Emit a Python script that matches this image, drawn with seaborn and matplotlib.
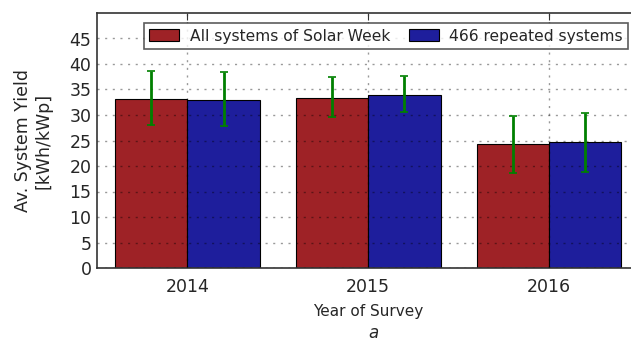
import matplotlib
matplotlib.use("Agg")
import matplotlib.pyplot as plt
import seaborn as sns
import pandas as pd
import numpy as np

# Survey years and series
years = ["2014", "2015", "2016"]
series = ["All systems of Solar Week", "466 repeated systems"]

# Average system yield [kWh/kWp] per series
yield_all = [33.2, 33.4, 24.4]
yield_repeated = [33.0, 33.9, 24.7]

# Error bar extents (lower / upper bounds)
low_all = [28.0, 29.6, 18.6]
high_all = [38.6, 37.4, 29.9]
low_repeated = [27.8, 30.5, 18.9]
high_repeated = [38.4, 37.6, 30.4]

colors = ["#9E2226", "#1E1E9C"]

df = pd.DataFrame({
    "Year": years * 2,
    "Series": [series[0]] * 3 + [series[1]] * 3,
    "Yield": yield_all + yield_repeated,
})

sns.set_style("white")
plt.rcParams["font.family"] = ["DejaVu Sans"]

fig = plt.figure(figsize=(6.31, 3.45), dpi=100)
ax = fig.add_axes([97 / 631, 77 / 345, 542.5 / 631, 255 / 345])

sns.barplot(data=df, x="Year", y="Yield", hue="Series", order=years,
            hue_order=series, palette=colors, errorbar=None, width=0.8,
            edgecolor="black", linewidth=0.8, saturation=1, ax=ax, zorder=1)

# Asymmetric error bars centred on each bar
means = [yield_all, yield_repeated]
lows = [low_all, low_repeated]
highs = [high_all, high_repeated]
for j in range(2):
    xs = np.arange(len(years)) + (j - 0.5) * 0.4
    m = np.array(means[j])
    yerr = [m - np.array(lows[j]), np.array(highs[j]) - m]
    ax.errorbar(xs, m, yerr=yerr, fmt="none", ecolor="green",
                elinewidth=2, capsize=3, capthick=1.2, zorder=3)

ax.set_xlim(-0.5, 2.5)
ax.set_ylim(0, 50)
ax.set_yticks(range(0, 50, 5))

ax.grid(True, color="black", linestyle=(0, (1.5, 4)), linewidth=1.0,
        alpha=0.4)
ax.set_axisbelow(False)
for sp in ax.spines.values():
    sp.set_visible(True)
    sp.set_color("#333333")
    sp.set_linewidth(1.2)

ax.tick_params(axis="both", direction="in", top=True, right=True,
               length=5, width=0.8, color="#333333")
ax.tick_params(axis="y", labelsize=12.5, pad=4)
ax.tick_params(axis="x", labelsize=12.5, pad=7)

ax.set_ylabel("Av. System Yield\n[kWh/kWp]", fontsize=12.5, labelpad=12)
ax.set_xlabel("Year of Survey", fontsize=11, labelpad=6)

leg = ax.legend(loc="upper right", ncol=2, fontsize=11.2, frameon=True,
                fancybox=False, edgecolor="#333333", handlelength=1.9,
                handleheight=0.8, handletextpad=0.7, columnspacing=1.2,
                borderpad=0.35, bbox_to_anchor=(0.994, 0.99))
leg.get_frame().set_linewidth(1.2)
leg.set_title(None)

fig.text(373 / 631, 1 - 333 / 345, "a", fontsize=12, style="italic",
         ha="center", va="center")

fig.savefig("out.png", dpi=100)
